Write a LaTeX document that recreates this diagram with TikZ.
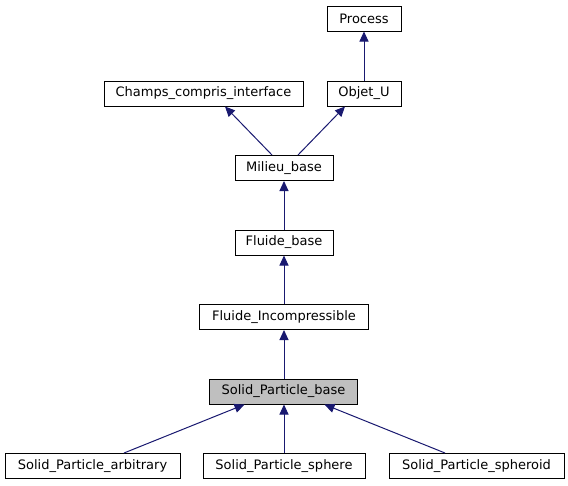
\documentclass[tikz,border=0pt]{standalone}
\usepackage{fontspec}
\setmainfont{DejaVu Sans}
\usetikzlibrary{arrows.meta}
\definecolor{edgeblue}{HTML}{191970}
\begin{document}
\begin{tikzpicture}[x=1pt,y=-1pt,
  box/.style={draw=black,line width=1pt,fill=white,minimum height=25pt,inner sep=0pt,font=\fontsize{13}{15}\selectfont},
  edge/.style={draw=edgeblue,line width=1pt,-{Triangle[length=10pt,width=9pt]}}]
\useasboundingbox (0,0) rectangle (568,485);
\node[box,minimum width=74pt] (process) at (364,18.5) {Process};
\node[box,minimum width=74pt] (objet) at (364,93.5) {Objet\_U};
\node[box,minimum width=199pt] (champs) at (203.5,93.5) {Champs\_compris\_interface};
\node[box,minimum width=98pt] (milieu) at (284,168) {Milieu\_base};
\node[box,minimum width=98pt] (fluide) at (284,242.5) {Fluide\_base};
\node[box,minimum width=169pt] (fluinc) at (284,317) {Fluide\_Incompressible};
\node[box,minimum width=148pt,fill={rgb,255:red,191;green,191;blue,191}] (spbase) at (283.5,391.5) {Solid\_Particle\_base};
\node[box,minimum width=175pt] (arb) at (92.5,466) {Solid\_Particle\_arbitrary};
\node[box,minimum width=162pt] (sphere) at (284,466) {Solid\_Particle\_sphere};
\node[box,minimum width=175pt] (spheroid) at (476.5,466) {Solid\_Particle\_spheroid};
\draw[edge] (objet) -- (process);
\draw[edge] ([xshift=-12pt]milieu.north) -- ([xshift=21.5pt]champs.south);
\draw[edge] ([xshift=14pt]milieu.north) -- ([xshift=-19pt]objet.south);
\draw[edge] (fluide) -- (milieu);
\draw[edge] (fluinc) -- (fluide);
\draw[edge] (spbase.north -| fluinc.south) -- (fluinc.south);
\draw[edge] ([xshift=31.5pt]arb.north) -- ([xshift=-39pt]spbase.south);
\draw[edge] (sphere.north) -- (sphere.north |- spbase.south);
\draw[edge] ([xshift=-31.5pt]spheroid.north) -- ([xshift=41pt]spbase.south);
\end{tikzpicture}
\end{document}
